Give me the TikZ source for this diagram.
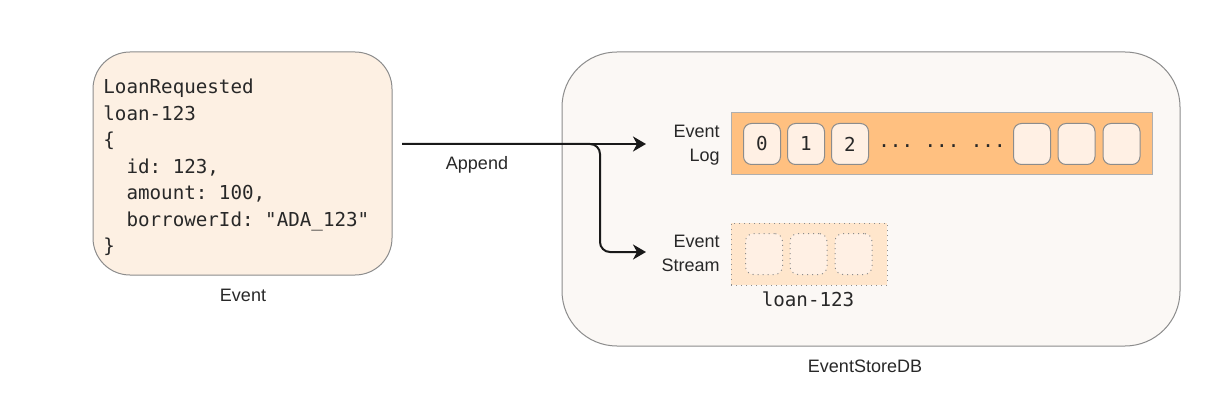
\documentclass[tikz,border=0pt]{standalone}
\usepackage{fontspec}
\setmainfont{Liberation Sans}
\setmonofont{DejaVu Sans Mono}
\usetikzlibrary{arrows.meta}
\definecolor{evtfill}{RGB}{253,240,227}
\definecolor{storefill}{RGB}{251,248,245}
\definecolor{logfill}{RGB}{255,192,128}
\definecolor{cellfill}{RGB}{255,240,228}
\definecolor{streamfill}{RGB}{255,230,204}
\definecolor{edge}{RGB}{140,140,140}
\definecolor{ink}{RGB}{40,40,40}
\begin{document}
\begin{tikzpicture}[x=0.5pt,y=-0.5pt,
  lbl/.style={text=ink,font=\fontsize{9}{12}\selectfont},
  mono/.style={text=ink,font=\ttfamily\fontsize{9.6}{13.25}\selectfont},
  cell/.style={mono,draw=edge,line width=0.5pt,fill=cellfill,rounded corners=4pt,
    minimum width=18.5pt,minimum height=20.5pt,inner sep=0pt},
  scell/.style={cell,dotted},
  flow/.style={draw=black!90,line width=1pt,-{Stealth[length=6.5pt,width=7.5pt,inset=2pt]}}]
\useasboundingbox[fill=white] (0,0) rectangle (1232,417);
\node[draw=edge,line width=0.5pt,fill=storefill,rounded corners=27.5pt,
  minimum width=309pt,minimum height=147pt] (store) at (871,199) {};
\node[lbl] at (865,366) {EventStoreDB};
\node[draw=edge,line width=0.5pt,fill=evtfill,rounded corners=18.5pt,
  minimum width=149.5pt,minimum height=111.5pt] (evt) at (242.5,163.5) {};
\node[mono,align=left,anchor=north west,inner sep=0pt] (evtbody) at (103,79)
  {LoanRequested\\loan-123\\\{\\
  \hphantom{xx}id: 123,\\\hphantom{xx}amount: 100,\\\hphantom{xx}borrowerId: "ADA\_123"\\\}};
\node[lbl] at (243,295) {Event};
\node[draw=edge!70,line width=0.5pt,fill=logfill,minimum width=210.5pt,minimum height=31pt]
  (log) at (941.5,144) {};
\foreach \x/\t in {762/0,806/1,850/2}
  \node[cell] (l\t) at (\x,144) {\t};
\node[mono] at (942,146) {... ... ...};
\foreach \x [count=\i] in {1032,1076.5,1121.5}
  \node[cell] (e\i) at (\x,144) {};
\node[draw=edge,dotted,line width=0.5pt,fill=streamfill,minimum width=78pt,minimum height=31pt]
  (stream) at (809,254) {};
\foreach \x [count=\i] in {764,808.5,853.5}
  \node[scell] (s\i) at (\x,254) {};
\node[mono] at (808,299) {loan-123};
\node[lbl,align=right,anchor=east,inner sep=0pt] (loglbl) at (720,145) {Event\\Log};
\node[lbl,align=right,anchor=east,inner sep=0pt] (streamlbl) at (720,253) {Event\\Stream};
\coordinate (src) at (402,144);
\coordinate (fork) at (600,144);
\coordinate (tipA) at (646,144);
\coordinate (tipB) at (646,252);
\draw[flow] (src) -- (tipA);
\draw[flow,rounded corners=5pt] (src) -- (fork) |- (tipB);
\node[lbl] at (477,165) {Append};
\end{tikzpicture}
\end{document}
